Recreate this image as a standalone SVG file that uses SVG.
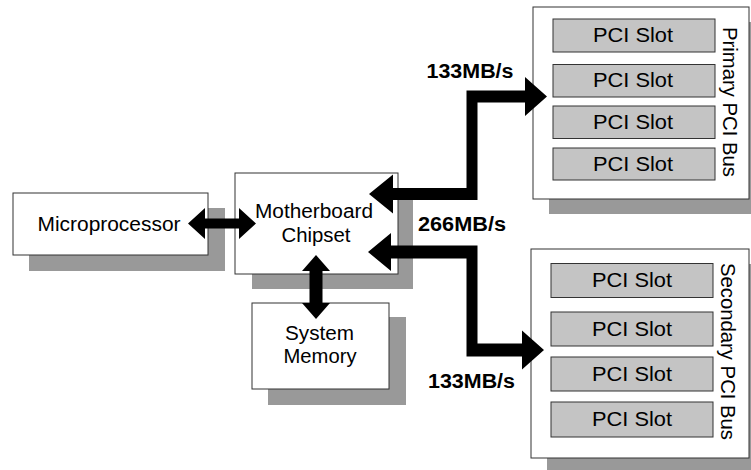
<svg xmlns="http://www.w3.org/2000/svg" width="751" height="470" viewBox="0 0 751 470">
  <style>
    .shadow { fill: #999999; }
    .box { fill: #ffffff; stroke: #333333; stroke-width: 1; }
    .slot { fill: #c4c4c4; stroke: #333333; stroke-width: 1; }
    .lbl { font-family: "Liberation Sans", Arial, sans-serif; font-size: 19.5px; fill: #000000; text-anchor: middle; }
    .rate { font-family: "Liberation Sans", Arial, sans-serif; font-size: 19.5px; font-weight: bold; fill: #000000; text-anchor: middle; }
    .bus { fill: #000000; }
  </style>

  <!-- Microprocessor -->
  <g id="microprocessor">
    <rect class="shadow" x="29" y="208" width="196" height="63"/>
    <rect class="box" x="13" y="193" width="195" height="62"/>
    <text class="lbl" x="109" y="231" textLength="143" lengthAdjust="spacingAndGlyphs">Microprocessor</text>
  </g>

  <!-- Motherboard chipset -->
  <g id="chipset">
    <rect class="shadow" x="252" y="189" width="161" height="100"/>
    <rect class="box" x="235" y="173" width="163" height="101"/>
    <text class="lbl" x="314" y="217.5" textLength="118" lengthAdjust="spacingAndGlyphs">Motherboard</text>
    <text class="lbl" x="316" y="241.5" textLength="69" lengthAdjust="spacingAndGlyphs">Chipset</text>
  </g>

  <!-- System memory -->
  <g id="memory">
    <rect class="shadow" x="268" y="317" width="138" height="88"/>
    <rect class="box" x="252" y="303" width="137" height="86"/>
    <text class="lbl" x="319.5" y="339.5" textLength="69" lengthAdjust="spacingAndGlyphs">System</text>
    <text class="lbl" x="320" y="362.5" textLength="73" lengthAdjust="spacingAndGlyphs">Memory</text>
  </g>

  <!-- Primary PCI bus with four slots -->
  <g id="primary-bus">
    <rect class="shadow" x="549" y="22" width="216" height="192"/>
    <rect class="box" x="533" y="7" width="216" height="192"/>
    <rect class="slot" x="553" y="19" width="162" height="33"/>
    <rect class="slot" x="553" y="64.5" width="162" height="32.5"/>
    <rect class="slot" x="553" y="106" width="162" height="32.5"/>
    <rect class="slot" x="553" y="148" width="162" height="32"/>
    <text class="lbl" x="633" y="42.3" textLength="80" lengthAdjust="spacingAndGlyphs">PCI Slot</text>
    <text class="lbl" x="633" y="87.3" textLength="80" lengthAdjust="spacingAndGlyphs">PCI Slot</text>
    <text class="lbl" x="633" y="129" textLength="80" lengthAdjust="spacingAndGlyphs">PCI Slot</text>
    <text class="lbl" x="633" y="170.6" textLength="80" lengthAdjust="spacingAndGlyphs">PCI Slot</text>
    <text class="lbl" transform="translate(723,102) rotate(90)" x="0" y="0" textLength="150" lengthAdjust="spacingAndGlyphs">Primary PCI Bus</text>
  </g>

  <!-- Secondary PCI bus with four slots -->
  <g id="secondary-bus">
    <rect class="shadow" x="547" y="264" width="218" height="209"/>
    <rect class="box" x="531" y="249" width="218" height="209"/>
    <rect class="slot" x="551" y="263.5" width="162" height="34"/>
    <rect class="slot" x="551" y="312" width="162" height="34"/>
    <rect class="slot" x="551" y="357" width="162" height="34"/>
    <rect class="slot" x="551" y="402" width="162" height="35"/>
    <text class="lbl" x="632" y="287.3" textLength="80" lengthAdjust="spacingAndGlyphs">PCI Slot</text>
    <text class="lbl" x="632" y="335.6" textLength="80" lengthAdjust="spacingAndGlyphs">PCI Slot</text>
    <text class="lbl" x="632" y="380.6" textLength="80" lengthAdjust="spacingAndGlyphs">PCI Slot</text>
    <text class="lbl" x="632" y="426" textLength="80" lengthAdjust="spacingAndGlyphs">PCI Slot</text>
    <text class="lbl" transform="translate(721,351.5) rotate(90)" x="0" y="0" textLength="177" lengthAdjust="spacingAndGlyphs">Secondary PCI Bus</text>
  </g>

  <!-- Bus connectors (thick double-headed arrows) -->
  <g id="connectors">
    <polygon class="bus" points="188,223.5 205,208 205,218.5 239,218.5 239,208 256,223.5 239,239 239,228.5 205,228.5 205,239"/>
    <polygon class="bus" points="316,255 330,271 322.5,271 322.5,303 330,303 316,319 302,303 309.5,303 309.5,271 302,271"/>
    <polygon class="bus" points="369,194 393,174.5 393,188 466.5,188 466.5,90.5 525,90.5 525,77 547,96.5 525,116 525,102.5 477.5,102.5 477.5,200 393,200 393,213.5"/>
    <polygon class="bus" points="368,252 391,233 391,245.5 477.5,245.5 477.5,343.5 522,343.5 522,330.5 544,350 522,369.5 522,356.5 466.5,356.5 466.5,258.5 391,258.5 391,271"/>
    <text class="rate" x="470" y="78.3" textLength="87" lengthAdjust="spacingAndGlyphs">133MB/s</text>
    <text class="rate" x="462" y="231" textLength="88" lengthAdjust="spacingAndGlyphs">266MB/s</text>
    <text class="rate" x="471.5" y="387.7" textLength="87" lengthAdjust="spacingAndGlyphs">133MB/s</text>
  </g>
</svg>
